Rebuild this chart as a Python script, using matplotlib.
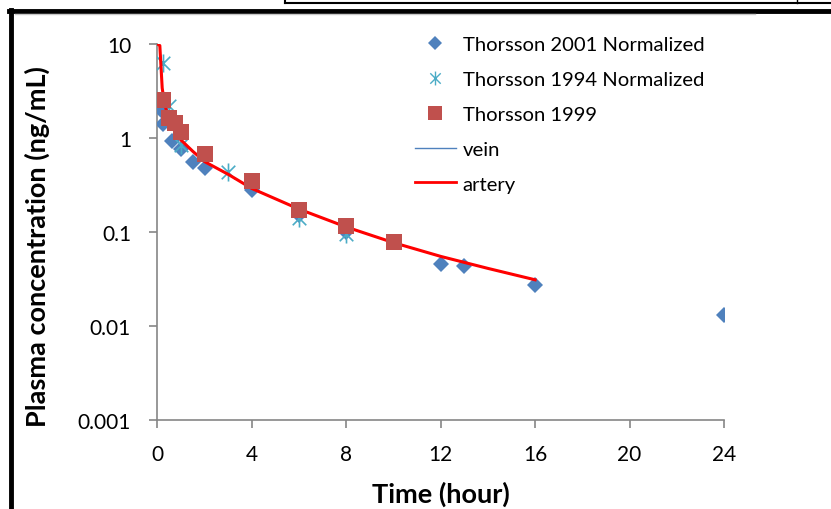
import numpy as np
import matplotlib.pyplot as plt
from matplotlib.path import Path
from matplotlib.lines import Line2D
from matplotlib.ticker import NullLocator

plt.rcParams['font.family'] = ['Lato', 'DejaVu Sans']

# Thorsson 2001 Normalized (blue diamonds)
t2001 = [0.17, 0.25, 0.6, 1.0, 1.5, 2.0, 4.0, 6.0, 8.0, 12.0, 13.0, 16.0, 24.0]
c2001 = [2.0, 1.4, 0.92, 0.76, 0.56, 0.475, 0.28, 0.15, 0.099, 0.046, 0.043, 0.027, 0.0132]

# Thorsson 1994 Normalized (light blue stars)
t1994 = [0.25, 0.5, 1.0, 3.0, 6.0, 8.0]
c1994 = [6.3, 2.2, 0.85, 0.43, 0.14, 0.096]

# Thorsson 1999 (red squares)
t1999 = [0.25, 0.5, 0.75, 1.0, 2.0, 4.0, 6.0, 8.0, 10.0]
c1999 = [2.55, 1.65, 1.45, 1.15, 0.67, 0.345, 0.173, 0.117, 0.079]

# model curves
t_model = [0, 0.1, 0.2, 0.3, 0.5, 0.75, 1.0, 1.5, 2.0, 3.0, 4.0, 6.0, 8.0, 10.0, 12.0, 14.0, 16.0]
artery = [10.0, 9.6, 3.4, 2.3, 1.55, 1.15, 0.95, 0.72, 0.56, 0.41, 0.29, 0.175, 0.113, 0.077, 0.055, 0.041, 0.031]
vein = [10.0, 9.6, 3.4, 2.3, 1.55, 1.15, 0.95, 0.72, 0.56, 0.41, 0.29, 0.175, 0.113, 0.077, 0.055, 0.041, 0.031]

xticks = [0, 4, 8, 12, 16, 20, 24]
yticks = [0.001, 0.01, 0.1, 1, 10]
ylabels = ['0.001', '0.01', '0.1', '1', '10']

gray = '#868686'
star = Path([(0, -1), (0, 1), (-0.75, -0.75), (0.75, 0.75), (-0.75, 0.75), (0.75, -0.75)],
            [Path.MOVETO, Path.LINETO, Path.MOVETO, Path.LINETO, Path.MOVETO, Path.LINETO])

fig = plt.figure(figsize=(8.31, 5.10), dpi=100)
ax = fig.add_axes([0.1895, 0.1745, 0.6817, 0.7373])

ax.plot(t2001, c2001, 'D', color='#4F81BD', ms=8.5, mew=0, zorder=3)
ax.plot(t1994, c1994, marker=star, ls='none', color='#4BACC6', ms=13, mew=1.2, zorder=3)
ax.plot(t_model, vein, color='#4F81BD', lw=1, zorder=4)
ax.plot(t_model, artery, color='#FF0000', lw=2.2, zorder=4)
ax.plot(t1999, c1999, 's', color='#C0504D', ms=11.5, mew=0, zorder=5)

ax.set_yscale('log')
ax.set_xlim(0, 24)
ax.set_ylim(0.001, 10)
ax.set_xticks(xticks)
ax.set_xticklabels([str(v) for v in xticks])
ax.set_yticks(yticks)
ax.set_yticklabels(ylabels)
ax.yaxis.set_minor_locator(NullLocator())

for s in ['top', 'right']:
    ax.spines[s].set_visible(False)
for s in ['left', 'bottom']:
    ax.spines[s].set_color(gray)
    ax.spines[s].set_linewidth(1.2)
ax.tick_params(axis='both', direction='out', length=6, width=1.2, color=gray, labelsize=15)
ax.tick_params(axis='y', pad=13)
ax.tick_params(axis='x', pad=11)

ax.set_xlabel('Time (hour)', fontsize=19.5, fontweight='bold')
ax.set_ylabel('Plasma concentration (ng/mL)', fontsize=19.5, fontweight='bold')
ax.xaxis.set_label_coords(0.5, -0.162)
ax.yaxis.set_label_coords(-0.19, 0.465)

handles = [
    Line2D([], [], marker='D', ls='none', color='#4F81BD', ms=7, mew=0),
    Line2D([], [], marker=star, ls='none', color='#4BACC6', ms=10, mew=1),
    Line2D([], [], marker='s', ls='none', color='#C0504D', ms=10, mew=0),
    Line2D([], [], color='#4F81BD', lw=1),
    Line2D([], [], color='#FF0000', lw=2),
]
labels = ['Thorsson 2001 Normalized', 'Thorsson 1994 Normalized', 'Thorsson 1999', 'vein', 'artery']
fig.legend(handles, labels, loc='upper left', bbox_to_anchor=(415 / 831, 1 - 37 / 510),
           frameon=False, fontsize=14.6, handlelength=2.0, handletextpad=0.35,
           labelspacing=0.87, borderpad=0, borderaxespad=0)

# borders of the screenshot
fig.add_artist(Line2D([11 / 831, 11 / 831], [0, 1 - 11 / 510], color='black', lw=3.5))
fig.add_artist(Line2D([9 / 831, 1], [1 - 12 / 510, 1 - 12 / 510], color='black', lw=3.5))
fig.add_artist(Line2D([15 / 831, 755 / 831], [1 - 15 / 510, 1 - 15 / 510], color='#c8c8c8', lw=1))
fig.add_artist(Line2D([285 / 831, 1], [1 - 4 / 510, 1 - 4 / 510], color='black', lw=1.5))
fig.add_artist(Line2D([285 / 831, 285 / 831], [1 - 4 / 510, 1], color='black', lw=1.5))
fig.add_artist(Line2D([797 / 831, 797 / 831], [1 - 4 / 510, 1], color='black', lw=1))

fig.savefig('out.png', dpi=100)
